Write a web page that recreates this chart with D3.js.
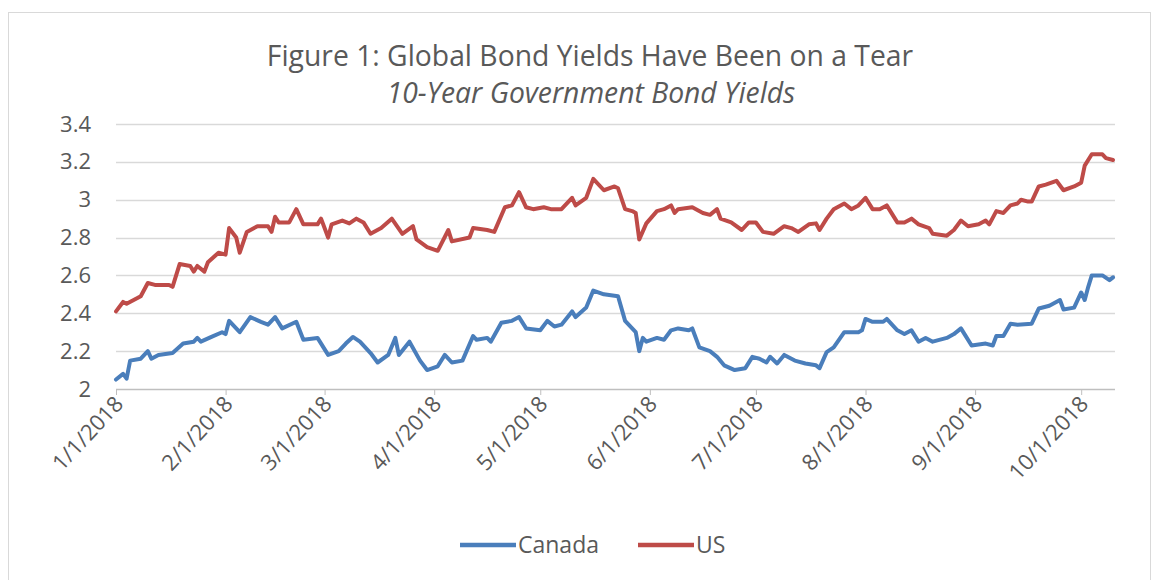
<!DOCTYPE html>
<html>
<head>
<meta charset="utf-8">
<script src="https://cdnjs.cloudflare.com/ajax/libs/d3/7.8.5/d3.min.js"></script>
<style>
  body { margin: 0; background: #fff; }
  text { font-family: "Open Sans", "Noto Sans", sans-serif; fill: #595959; }
</style>
</head>
<body>
<div id="chart"></div>
<script>

// 10-year government bond yields
var usDates = ["1/1/2018","1/3/2018","1/4/2018","1/8/2018","1/10/2018","1/12/2018","1/16/2018","1/17/2018","1/19/2018","1/22/2018",
  "1/23/2018","1/24/2018","1/26/2018","1/27/2018","1/30/2018","2/1/2018","2/2/2018","2/4/2018","2/5/2018","2/7/2018",
  "2/10/2018","2/13/2018","2/14/2018","2/15/2018","2/16/2018","2/19/2018","2/21/2018","2/23/2018","2/27/2018","2/28/2018",
  "3/2/2018","3/3/2018","3/6/2018","3/8/2018","3/10/2018","3/12/2018","3/14/2018","3/17/2018","3/20/2018","3/23/2018",
  "3/26/2018","3/27/2018","3/30/2018","4/2/2018","4/5/2018","4/6/2018","4/11/2018","4/12/2018","4/16/2018","4/18/2018",
  "4/21/2018","4/23/2018","4/25/2018","4/27/2018","4/29/2018","5/2/2018","5/4/2018","5/7/2018","5/10/2018","5/11/2018",
  "5/14/2018","5/16/2018","5/19/2018","5/22/2018","5/23/2018","5/25/2018","5/27/2018","5/28/2018","5/29/2018","5/31/2018",
  "6/3/2018","6/5/2018","6/7/2018","6/8/2018","6/9/2018","6/13/2018","6/16/2018","6/18/2018","6/20/2018","6/21/2018",
  "6/24/2018","6/27/2018","6/29/2018","7/1/2018","7/3/2018","7/6/2018","7/9/2018","7/11/2018","7/13/2018","7/16/2018",
  "7/18/2018","7/19/2018","7/21/2018","7/23/2018","7/26/2018","7/28/2018","7/30/2018","8/1/2018","8/3/2018","8/5/2018",
  "8/7/2018","8/10/2018","8/12/2018","8/14/2018","8/16/2018","8/19/2018","8/20/2018","8/24/2018","8/26/2018","8/28/2018",
  "8/30/2018","9/2/2018","9/4/2018","9/5/2018","9/7/2018","9/9/2018","9/11/2018","9/13/2018","9/14/2018","9/16/2018",
  "9/17/2018","9/19/2018","9/21/2018","9/24/2018","9/26/2018","9/29/2018","10/1/2018","10/2/2018","10/4/2018","10/7/2018",
  "10/8/2018","10/10/2018"];
var usYields = [2.41,2.46,2.45,2.49,2.56,2.55,2.55,2.54,2.66,2.65,
  2.62,2.65,2.62,2.67,2.72,2.71,2.85,2.80,2.72,2.83,
  2.86,2.86,2.83,2.91,2.88,2.88,2.95,2.87,2.87,2.90,
  2.80,2.87,2.89,2.875,2.90,2.88,2.82,2.85,2.90,2.82,
  2.86,2.79,2.75,2.73,2.84,2.78,2.80,2.85,2.84,2.83,
  2.96,2.97,3.04,2.96,2.95,2.96,2.95,2.95,3.01,2.97,
  3.01,3.11,3.05,3.07,3.06,2.95,2.94,2.93,2.79,2.875,
  2.94,2.95,2.97,2.93,2.95,2.96,2.93,2.92,2.95,2.90,
  2.88,2.84,2.88,2.88,2.83,2.82,2.86,2.85,2.83,2.87,
  2.875,2.84,2.90,2.95,2.98,2.95,2.97,3.01,2.95,2.95,
  2.97,2.88,2.88,2.90,2.87,2.85,2.82,2.81,2.84,2.89,
  2.86,2.87,2.89,2.87,2.94,2.93,2.97,2.98,3.00,2.99,
  2.99,3.07,3.08,3.10,3.05,3.07,3.09,3.18,3.24,3.24,
  3.22,3.21];

var caDates = ["1/1/2018","1/3/2018","1/4/2018","1/5/2018","1/8/2018","1/10/2018","1/11/2018","1/13/2018","1/17/2018","1/20/2018",
  "1/23/2018","1/24/2018","1/25/2018","1/28/2018","1/31/2018","2/1/2018","2/2/2018","2/4/2018","2/5/2018","2/8/2018",
  "2/11/2018","2/13/2018","2/15/2018","2/17/2018","2/21/2018","2/23/2018","2/27/2018","3/2/2018","3/5/2018","3/7/2018",
  "3/9/2018","3/11/2018","3/14/2018","3/16/2018","3/19/2018","3/21/2018","3/22/2018","3/25/2018","3/28/2018","3/30/2018",
  "4/2/2018","4/4/2018","4/6/2018","4/9/2018","4/12/2018","4/13/2018","4/16/2018","4/17/2018","4/20/2018","4/23/2018",
  "4/25/2018","4/27/2018","5/1/2018","5/3/2018","5/5/2018","5/7/2018","5/10/2018","5/11/2018","5/14/2018","5/16/2018",
  "5/19/2018","5/23/2018","5/25/2018","5/28/2018","5/29/2018","5/30/2018","5/31/2018","6/3/2018","6/5/2018","6/7/2018",
  "6/9/2018","6/12/2018","6/13/2018","6/15/2018","6/18/2018","6/20/2018","6/22/2018","6/25/2018","6/28/2018","6/30/2018",
  "7/2/2018","7/4/2018","7/5/2018","7/7/2018","7/9/2018","7/12/2018","7/15/2018","7/18/2018","7/19/2018","7/21/2018",
  "7/23/2018","7/26/2018","7/30/2018","7/31/2018","8/1/2018","8/3/2018","8/6/2018","8/7/2018","8/10/2018","8/12/2018",
  "8/14/2018","8/16/2018","8/18/2018","8/20/2018","8/24/2018","8/26/2018","8/28/2018","8/29/2018","8/31/2018","9/4/2018",
  "9/6/2018","9/7/2018","9/9/2018","9/11/2018","9/13/2018","9/17/2018","9/19/2018","9/22/2018","9/25/2018","9/26/2018",
  "9/29/2018","10/1/2018","10/2/2018","10/3/2018","10/4/2018","10/7/2018","10/9/2018","10/10/2018"];
var caYields = [2.05,2.08,2.055,2.15,2.16,2.20,2.16,2.18,2.19,2.24,
  2.25,2.27,2.25,2.275,2.30,2.29,2.36,2.32,2.30,2.38,
  2.355,2.34,2.38,2.32,2.355,2.26,2.27,2.18,2.20,2.24,
  2.275,2.25,2.19,2.14,2.18,2.27,2.18,2.25,2.15,2.10,
  2.12,2.18,2.14,2.15,2.28,2.26,2.27,2.25,2.35,2.36,
  2.38,2.32,2.31,2.36,2.33,2.34,2.41,2.38,2.43,2.52,
  2.50,2.49,2.36,2.30,2.20,2.27,2.25,2.27,2.26,2.31,
  2.32,2.31,2.32,2.22,2.20,2.17,2.125,2.10,2.11,2.17,
  2.16,2.14,2.17,2.135,2.18,2.15,2.135,2.125,2.11,2.195,
  2.22,2.30,2.30,2.31,2.37,2.355,2.355,2.37,2.31,2.29,
  2.31,2.25,2.27,2.25,2.27,2.29,2.32,2.29,2.23,2.24,
  2.23,2.28,2.28,2.345,2.34,2.345,2.425,2.44,2.47,2.42,
  2.43,2.51,2.47,2.54,2.60,2.60,2.575,2.59];

var seriesNames = ["Canada", "US"];
var seriesColors = ["#4a7ebb", "#be4b48"];
var yTicks = [2, 2.2, 2.4, 2.6, 2.8, 3, 3.2, 3.4];
var monthTicks = ["1/1/2018","2/1/2018","3/1/2018","4/1/2018","5/1/2018","6/1/2018","7/1/2018","8/1/2018","9/1/2018","10/1/2018"];

var parse = d3.timeParse("%m/%d/%Y");
var fmt = function(d) { return (d.getMonth() + 1) + "/" + d.getDate() + "/" + d.getFullYear(); };

var series = [
  caDates.map(function(d, i) { return {date: parse(d), value: caYields[i]}; }),
  usDates.map(function(d, i) { return {date: parse(d), value: usYields[i]}; })
];

var W = 1160, H = 580;
var svg = d3.select("#chart").append("svg")
    .attr("width", W)
    .attr("height", H);

// chart frame
svg.append("rect")
    .attr("x", 8.5).attr("y", 12.5)
    .attr("width", 1142).attr("height", 580)
    .attr("fill", "#fff")
    .attr("stroke", "#d9d9d9");

var x = d3.scaleTime()
    .domain([parse("1/1/2018"), parse("10/10/2018")])
    .range([116, 1113]);
var y = d3.scaleLinear()
    .domain([2, 3.4])
    .range([389, 124]);

// titles
svg.append("text")
    .attr("x", 590).attr("y", 66)
    .attr("text-anchor", "middle")
    .style("font-size", "28.3px")
    .text("Figure 1: Global Bond Yields Have Been on a Tear");
svg.append("text")
    .attr("x", 591).attr("y", 103)
    .attr("text-anchor", "middle")
    .style("font-size", "28.3px")
    .style("font-style", "italic")
    .text("10-Year Government Bond Yields");

// horizontal gridlines
svg.append("g").selectAll("line")
    .data(yTicks.slice(1))
    .join("line")
    .attr("x1", 116).attr("x2", 1115)
    .attr("y1", function(d) { return Math.round(y(d)) + 0.5; })
    .attr("y2", function(d) { return Math.round(y(d)) + 0.5; })
    .attr("stroke", "#d9d9d9")
    .attr("stroke-width", 1.5);

// y axis labels
var yAxis = svg.append("g")
    .attr("transform", "translate(116,0)")
    .call(d3.axisLeft(y).tickValues(yTicks).tickSize(0).tickPadding(25)
      .tickFormat(function(d) { return d3.format("~g")(d); }));
yAxis.select(".domain").remove();
yAxis.selectAll("text")
    .style("font-size", "22px")
    .attr("fill", null);

// x axis
var xAxis = svg.append("g")
    .attr("transform", "translate(0,389)")
    .call(d3.axisBottom(x).tickValues(monthTicks.map(parse)).tickSize(6).tickFormat(fmt));
xAxis.select(".domain")
    .attr("d", "M116,0.5H1115")
    .attr("stroke", "#bfbfbf")
    .attr("stroke-width", 1.5);
xAxis.selectAll(".tick line").attr("stroke", "#bfbfbf");
xAxis.selectAll(".tick text")
    .style("font-size", "22px")
    .attr("fill", null)
    .attr("text-anchor", "end")
    .attr("dy", null)
    .attr("y", 0)
    .attr("transform", "translate(8,16) rotate(-47)");

// the two yield lines
var line = d3.line()
    .x(function(d) { return x(d.date); })
    .y(function(d) { return y(d.value); });

svg.append("g").selectAll("path")
    .data(series)
    .join("path")
    .attr("d", line)
    .attr("fill", "none")
    .attr("stroke", function(d, i) { return seriesColors[i]; })
    .attr("stroke-width", 4)
    .attr("stroke-linejoin", "round")
    .attr("stroke-linecap", "round");

// legend
var legendX = [460, 638];
var legend = svg.append("g").selectAll("g")
    .data(seriesNames)
    .join("g")
    .attr("transform", function(d, i) { return "translate(" + legendX[i] + ",545)"; });
legend.append("line")
    .attr("x1", 0).attr("x2", 56)
    .attr("stroke", function(d, i) { return seriesColors[i]; })
    .attr("stroke-width", 4.5);
legend.append("text")
    .attr("x", 58).attr("dy", "0.35em")
    .style("font-size", "23px")
    .text(function(d) { return d; });

</script>
</body>
</html>
